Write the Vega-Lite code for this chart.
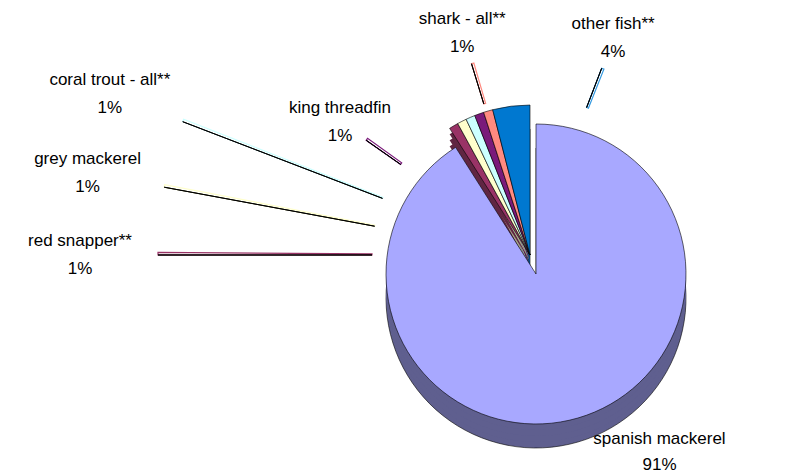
{
  "$schema": "https://vega.github.io/schema/vega-lite/v6.json",
  "width": 536,
  "height": 440,
  "autosize": "none",
  "padding": {"left": 262, "top": 35, "right": 0, "bottom": 0},
  "background": "#ffffff",
  "config": {"view": {"stroke": null}, "text": {"font": "Liberation Sans", "fontSize": 17, "color": "#000000"}},
  "data": {
    "values": [
      {"rank": 1, "fish": "spanish mackerel", "value": 91, "pct": "91%"},
      {"rank": 2, "fish": "red snapper**", "value": 1, "pct": "1%"},
      {"rank": 3, "fish": "grey mackerel", "value": 1, "pct": "1%"},
      {"rank": 4, "fish": "coral trout - all**", "value": 1, "pct": "1%"},
      {"rank": 5, "fish": "king threadfin", "value": 1, "pct": "1%"},
      {"rank": 6, "fish": "shark - all**", "value": 1, "pct": "1%"},
      {"rank": 7, "fish": "other fish**", "value": 4, "pct": "4%"}
    ]
  },
  "transform": [
    {"stack": "value", "groupby": [], "sort": [{"field": "rank", "order": "ascending"}], "as": ["v0", "v1"]}
  ],
  "resolve": {"scale": {"theta": "independent"}},
  "layer": [
    {"transform": [{"filter": "datum.rank > 1"}], "mark": {"type": "arc", "radius": 150, "yOffset": 24, "stroke": "#000000", "strokeWidth": 0.6},
     "encoding": {"theta": {"field": "v0", "type": "quantitative", "stack": null, "scale": {"domain": [0, 100]}}, "theta2": {"field": "v1"},
       "fill": {"field": "fish", "type": "nominal", "legend": null, "scale": {"domain": ["spanish mackerel", "red snapper**", "grey mackerel", "coral trout - all**", "king threadfin", "shark - all**", "other fish**"], "range": ["#5F5F8F", "#602642", "#A8A888", "#88A8A8", "#4A004A", "#A85850", "#00477F"]}}}},
    {"transform": [{"filter": "datum.rank == 1"}], "mark": {"type": "arc", "radius": 150, "xOffset": 6, "yOffset": 43, "stroke": "#000000", "strokeWidth": 0.6},
     "encoding": {"theta": {"field": "v0", "type": "quantitative", "stack": null, "scale": {"domain": [0, 100]}}, "theta2": {"field": "v1"},
       "fill": {"field": "fish", "type": "nominal", "legend": null}}},
    {"transform": [{"filter": "datum.rank > 1"}], "mark": {"type": "arc", "radius": 150, "yOffset": 18},
     "encoding": {"theta": {"field": "v0", "type": "quantitative", "stack": null, "scale": {"domain": [0, 100]}}, "theta2": {"field": "v1"},
       "fill": {"field": "fish", "type": "nominal", "legend": null}}},
    {"transform": [{"filter": "datum.rank == 1"}], "mark": {"type": "arc", "radius": 150, "xOffset": 6, "yOffset": 37},
     "encoding": {"theta": {"field": "v0", "type": "quantitative", "stack": null, "scale": {"domain": [0, 100]}}, "theta2": {"field": "v1"},
       "fill": {"field": "fish", "type": "nominal", "legend": null}}},
    {"transform": [{"filter": "datum.rank > 1"}], "mark": {"type": "arc", "radius": 150, "yOffset": 12},
     "encoding": {"theta": {"field": "v0", "type": "quantitative", "stack": null, "scale": {"domain": [0, 100]}}, "theta2": {"field": "v1"},
       "fill": {"field": "fish", "type": "nominal", "legend": null}}},
    {"transform": [{"filter": "datum.rank == 1"}], "mark": {"type": "arc", "radius": 150, "xOffset": 6, "yOffset": 31},
     "encoding": {"theta": {"field": "v0", "type": "quantitative", "stack": null, "scale": {"domain": [0, 100]}}, "theta2": {"field": "v1"},
       "fill": {"field": "fish", "type": "nominal", "legend": null}}},
    {"transform": [{"filter": "datum.rank > 1"}], "mark": {"type": "arc", "radius": 150, "yOffset": 6},
     "encoding": {"theta": {"field": "v0", "type": "quantitative", "stack": null, "scale": {"domain": [0, 100]}}, "theta2": {"field": "v1"},
       "fill": {"field": "fish", "type": "nominal", "legend": null}}},
    {"transform": [{"filter": "datum.rank == 1"}], "mark": {"type": "arc", "radius": 150, "xOffset": 6, "yOffset": 25},
     "encoding": {"theta": {"field": "v0", "type": "quantitative", "stack": null, "scale": {"domain": [0, 100]}}, "theta2": {"field": "v1"},
       "fill": {"field": "fish", "type": "nominal", "legend": null}}},
    {"transform": [{"filter": "datum.rank > 1"}], "mark": {"type": "arc", "radius": 150, "stroke": "#000000", "strokeWidth": 0.6},
     "encoding": {"theta": {"field": "v0", "type": "quantitative", "stack": null, "scale": {"domain": [0, 100]}}, "theta2": {"field": "v1"},
       "color": {"field": "fish", "type": "nominal", "legend": null, "scale": {"domain": ["spanish mackerel", "red snapper**", "grey mackerel", "coral trout - all**", "king threadfin", "shark - all**", "other fish**"], "range": ["#A8A8FF", "#993366", "#FFFFCC", "#CCFFFF", "#7A1A7A", "#FF8A80", "#0078D0"]}}}},
    {"transform": [{"filter": "datum.rank == 1"}], "mark": {"type": "arc", "radius": 150, "xOffset": 6, "yOffset": 19, "stroke": "#000000", "strokeWidth": 0.6},
     "encoding": {"theta": {"field": "v0", "type": "quantitative", "stack": null, "scale": {"domain": [0, 100]}}, "theta2": {"field": "v1"},
       "color": {"field": "fish", "type": "nominal", "legend": null}}},
    {"transform": [{"filter": "datum.rank >= 2 && datum.rank <= 4"}], "mark": {"type": "arc", "radius": 372, "radius2": 158, "strokeWidth": 1.2, "fillOpacity": 0, "thetaOffset": 0.007},
     "encoding": {"theta": {"field": "rank", "type": "quantitative", "stack": null, "scale": {"domain": [2, 4], "range": [4.7124, 5.0789], "zero": false}}, "theta2": {"field": "rank"},
       "stroke": {"field": "fish", "type": "nominal", "legend": null, "scale": {"domain": ["spanish mackerel", "red snapper**", "grey mackerel", "coral trout - all**", "king threadfin", "shark - all**", "other fish**"], "range": ["#A8A8FF", "#993366", "#FFFFCC", "#CCFFFF", "#7A1A7A", "#FF8A80", "#3399E0"]}}}},
    {"transform": [{"filter": "datum.rank >= 5"}], "mark": {"type": "arc", "radius": 200, "radius2": 158, "strokeWidth": 1.2, "fillOpacity": 0, "thetaOffset": 0.012},
     "encoding": {"theta": {"field": "rank", "type": "quantitative", "stack": null, "scale": {"domain": [5, 7], "range": [5.3233, 6.6497], "zero": false}}, "theta2": {"field": "rank"},
       "stroke": {"field": "fish", "type": "nominal", "legend": null}}},
    {"transform": [{"filter": "datum.rank >= 2 && datum.rank <= 4"}], "mark": {"type": "arc", "radius": 372, "radius2": 158, "stroke": "#000000", "strokeWidth": 1, "fillOpacity": 0},
     "encoding": {"theta": {"field": "rank", "type": "quantitative", "stack": null, "scale": {"domain": [2, 4], "range": [4.7124, 5.0789], "zero": false}}, "theta2": {"field": "rank"}}},
    {"transform": [{"filter": "datum.rank >= 5"}], "mark": {"type": "arc", "radius": 200, "radius2": 158, "stroke": "#000000", "strokeWidth": 1, "fillOpacity": 0},
     "encoding": {"theta": {"field": "rank", "type": "quantitative", "stack": null, "scale": {"domain": [5, 7], "range": [5.3233, 6.6497], "zero": false}}, "theta2": {"field": "rank"}}},
    {"transform": [{"filter": "datum.rank >= 2 && datum.rank <= 4"}], "mark": {"type": "text", "radius": 450, "dy": -14},
     "encoding": {"theta": {"field": "rank", "type": "quantitative", "stack": null, "scale": {"domain": [2, 4], "range": [4.7124, 5.0789], "zero": false}}, "text": {"field": "fish"}}},
    {"transform": [{"filter": "datum.rank >= 2 && datum.rank <= 4"}], "mark": {"type": "text", "radius": 450, "dy": 14},
     "encoding": {"theta": {"field": "rank", "type": "quantitative", "stack": null, "scale": {"domain": [2, 4], "range": [4.7124, 5.0789], "zero": false}}, "text": {"field": "pct"}}},
    {"transform": [{"filter": "datum.rank >= 5"}], "mark": {"type": "text", "radius": 232, "dy": -14},
     "encoding": {"theta": {"field": "rank", "type": "quantitative", "stack": null, "scale": {"domain": [5, 7], "range": [5.3233, 6.6497], "zero": false}}, "text": {"field": "fish"}}},
    {"transform": [{"filter": "datum.rank >= 5"}], "mark": {"type": "text", "radius": 232, "dy": 14},
     "encoding": {"theta": {"field": "rank", "type": "quantitative", "stack": null, "scale": {"domain": [5, 7], "range": [5.3233, 6.6497], "zero": false}}, "text": {"field": "pct"}}},
    {"transform": [{"filter": "datum.rank == 1"}], "mark": {"type": "text", "radius": 236, "dy": -13},
     "encoding": {"theta": {"field": "v1", "type": "quantitative", "stack": null, "scale": {"domain": [0, 100], "range": [0, 2.814]}}, "text": {"field": "fish"}}},
    {"transform": [{"filter": "datum.rank == 1"}], "mark": {"type": "text", "radius": 236, "dy": 13},
     "encoding": {"theta": {"field": "v1", "type": "quantitative", "stack": null, "scale": {"domain": [0, 100], "range": [0, 2.814]}}, "text": {"field": "pct"}}}
  ]
}
